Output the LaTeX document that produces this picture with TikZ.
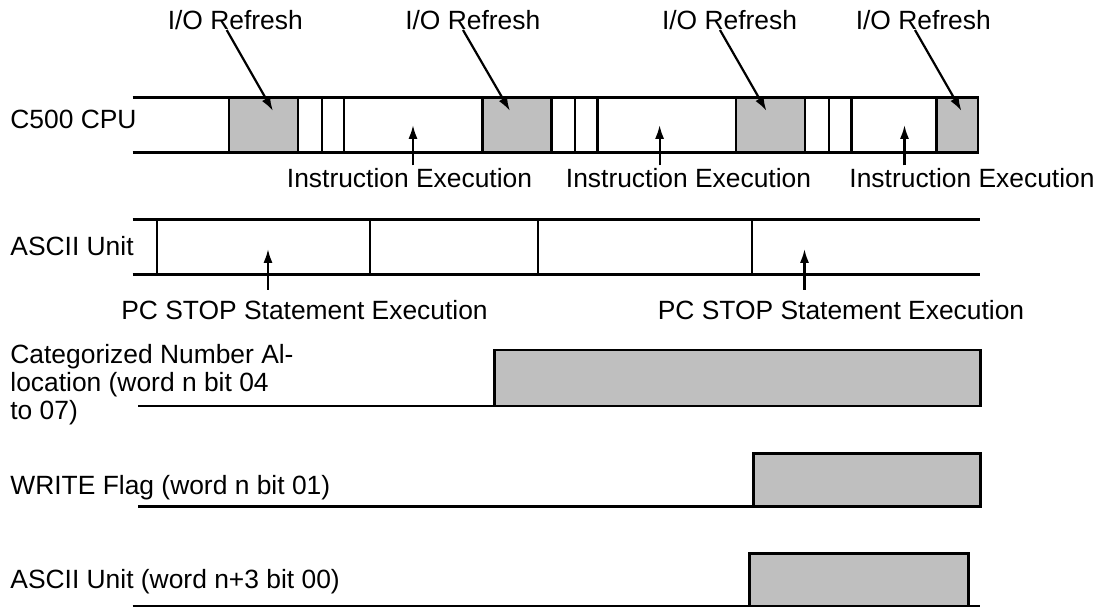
\documentclass[tikz,border=0pt]{standalone}
\usepackage{fontspec}
\setmainfont{Liberation Sans}
\usetikzlibrary{arrows.meta}

\tikzset{
  lbl/.style={inner sep=0pt, font=\fontsize{13.2}{14}\selectfont},
  rail/.style={line width=1.3pt},
  tick/.style={line width=1.1pt},
  busy/.style={fill=black!25, draw=black, line width=1.3pt},
  arr/.style={line width=1.1pt, -{Latex[length=7pt,width=4.6pt]}}
}

\begin{document}
\begin{tikzpicture}[x=0.5pt,y=-0.5pt]
				\useasboundingbox (0,0) rectangle (1104,608);
				%
				% C500 CPU
				\node [lbl, anchor=base west] (cpu) at (10,128.3) {C500 CPU};
				\draw [busy] (229,97.5) rectangle (298,152.7);
				\draw [busy] (482.7,97.5) rectangle (551.7,152.7);
				\draw [busy] (736,97.5) rectangle (805,152.7);
				\draw [busy] (936.5,97.5) rectangle (978,152.7);
				\draw [rail] (132.7,97.5) -- (978,97.5);
				\draw [rail] (132.7,152.7) -- (978,152.7);
				\draw [tick] (321.7,97.5) -- (321.7,152.7) (343.7,97.5) -- (343.7,152.7);
				\draw [tick] (575,97.5) -- (575,152.7) (597.5,97.5) -- (597.5,152.7);
				\draw [tick] (829,97.5) -- (829,152.7) (851.5,97.5) -- (851.5,152.7);
				%
				\node [lbl, anchor=base] (io1) at (235.3,30) {I/O Refresh};
				\node [lbl, anchor=base] (io2) at (472.8,30) {I/O Refresh};
				\node [lbl, anchor=base] (io3) at (729.5,30) {I/O Refresh};
				\node [lbl, anchor=base] (io4) at (923.3,30) {I/O Refresh};
				\coordinate (r1) at (273,111);
				\coordinate (r2) at (510,111);
				\coordinate (r3) at (766.5,111);
				\coordinate (r4) at (961.5,111);
				\draw [arr] ([xshift=-4.3pt]io1.base) -- (r1);
				\draw [arr] ([xshift=-4.9pt]io2.base) -- (r2);
				\draw [arr] ([xshift=-4.75pt]io3.base) -- (r3);
				\draw [arr] ([xshift=-4.15pt]io4.base) -- (r4);
				%
				\node [lbl, anchor=base] (ie1) at (409.5,188) {Instruction Execution};
				\node [lbl, anchor=base] (ie2) at (688.5,188) {Instruction Execution};
				\node [lbl, anchor=base] (ie3) at (972,188) {Instruction Execution};
				\coordinate (x1) at (413,125);
				\coordinate (x2) at (659.6,125);
				\coordinate (x3) at (904.5,125);
				\draw [arr] ([yshift=1.5pt]ie1.north -| x1) -- (x1);
				\draw [arr] ([yshift=1.5pt]ie2.north -| x2) -- (x2);
				\draw [arr] ([yshift=1.5pt]ie3.north -| x3) -- (x3);
				%
				% ASCII Unit
				\node [lbl, anchor=base west] (ascii) at (10,256) {ASCII Unit};
				\draw [rail] (132.7,219.3) -- (980,219.3);
				\draw [rail] (132.7,274.5) -- (980,274.5);
				\draw [tick] (157,219.3) -- (157,274.5) (370,219.3) -- (370,274.5);
				\draw [tick] (538,219.3) -- (538,274.5) (751.7,219.3) -- (751.7,274.5);
				%
				\node [lbl, anchor=base] (stop1) at (304.5,319.3) {PC STOP Statement Execution};
				\node [lbl, anchor=base] (stop2) at (841,319.3) {PC STOP Statement Execution};
				\coordinate (s1) at (268,249);
				\coordinate (s2) at (804.5,249);
				\draw [arr] ([yshift=5pt]stop1.north -| s1) -- (s1);
				\draw [arr] ([yshift=5pt]stop2.north -| s2) -- (s2);
				%
				% flags
				\node [lbl, anchor=north west, align=left] (cat) at (10,344) {Categorized Number Al-\\location (word n bit 04\\to 07)};
				\draw [busy] (494.7,350) rectangle (980.7,406);
				\draw [rail] (138.3,406) -- (494.7,406);
				%
				\node [lbl, anchor=base west] (wr) at (10,495) {WRITE Flag (word n bit 01)};
				\draw [busy] (753.3,453.3) rectangle (980.7,506.7);
				\draw [rail] (138.3,506.7) -- (753.3,506.7);
				%
				\node [lbl, anchor=base west] (ack) at (10,588.3) {ASCII Unit (word n+3 bit 00)};
				\draw [busy] (749.3,553.3) rectangle (968.3,606);
				\draw [rail] (132.7,606) -- (980,606);
		
			\end{tikzpicture}
\end{document}
